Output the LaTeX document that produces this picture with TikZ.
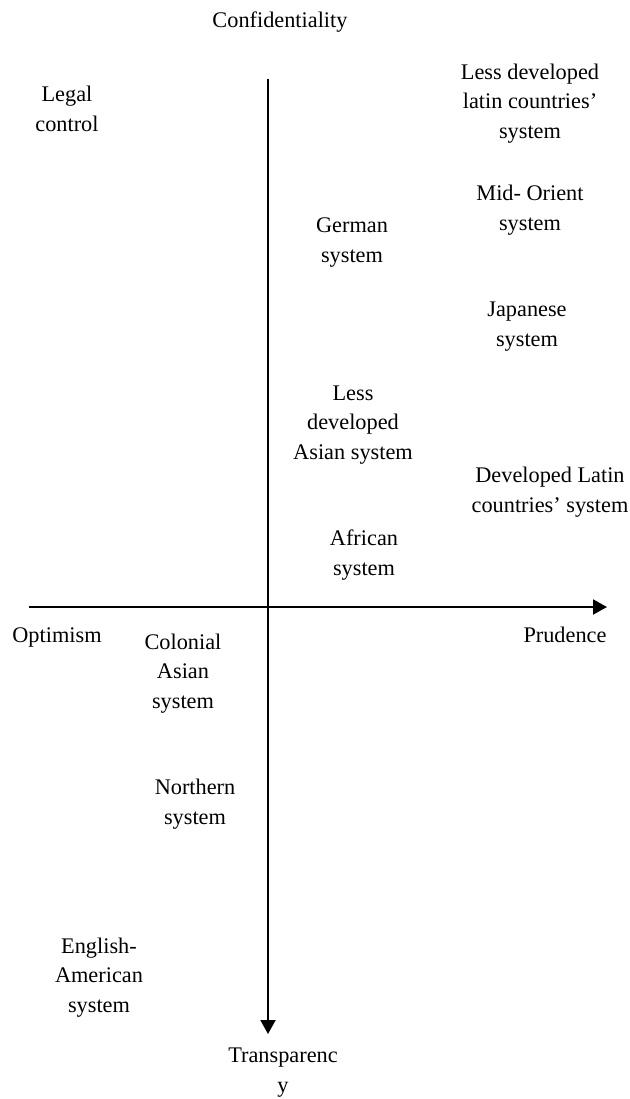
\documentclass[tikz,border=0pt]{standalone}
\usepackage{fontspec}
\setmainfont{Liberation Serif}
\usepackage{tikz}
\usetikzlibrary{arrows.meta,positioning}
\tikzset{
  axisln/.style={-{Triangle[length=7pt,width=7.5pt]}, line width=1pt, black},
  lbl/.style={font=\fontsize{11.15pt}{14.6pt}\selectfont, align=center, inner sep=0pt, anchor=base},
}

\begin{document}
\begin{tikzpicture}[x=0.5pt, y=-0.5pt]
    \useasboundingbox (0,0) rectangle (629,1099);
    % axes
    \coordinate (ytop) at (268,79);
    \coordinate (ybot) at (268,1034);
    \coordinate (xleft) at (29,607);
    \coordinate (xright) at (607,607);
    \draw[axisln] (ytop) -- (ybot);
    \draw[axisln] (xleft) -- (xright);
    % pole labels (base = last line)
    \node[lbl] (conf) at (280,27) {Confidentiality};
    \node[lbl] (transp) at (283,1092) {Transparenc\\y};
    \node[lbl] (optim) at (57,642) {Optimism};
    \node[lbl] (prud) at (565,642) {Prudence};
    \node[lbl] (legal) at (67,131) {Legal\\control};
    % systems
    \node[lbl] (lesslatin) at (530,138) {Less developed\\latin countries'\\system};
    \node[lbl] (midorient) at (530,230) {Mid- Orient\\system};
    \node[lbl] (german) at (352,262) {German\\system};
    \node[lbl] (japanese) at (527,346) {Japanese\\system};
    \node[lbl] (lessasian) at (353,459) {Less\\developed\\Asian system};
    \node[lbl] (devlatin) at (550,512) {Developed Latin\\countries' system};
    \node[lbl] (african) at (364,575) {African\\system};
    \node[lbl] (colonial) at (183,708) {Colonial\\Asian\\system};
    \node[lbl] (northern) at (195,824) {Northern\\system};
    \node[lbl] (english) at (99,1012) {English-\\American\\system};
\end{tikzpicture}
\end{document}
